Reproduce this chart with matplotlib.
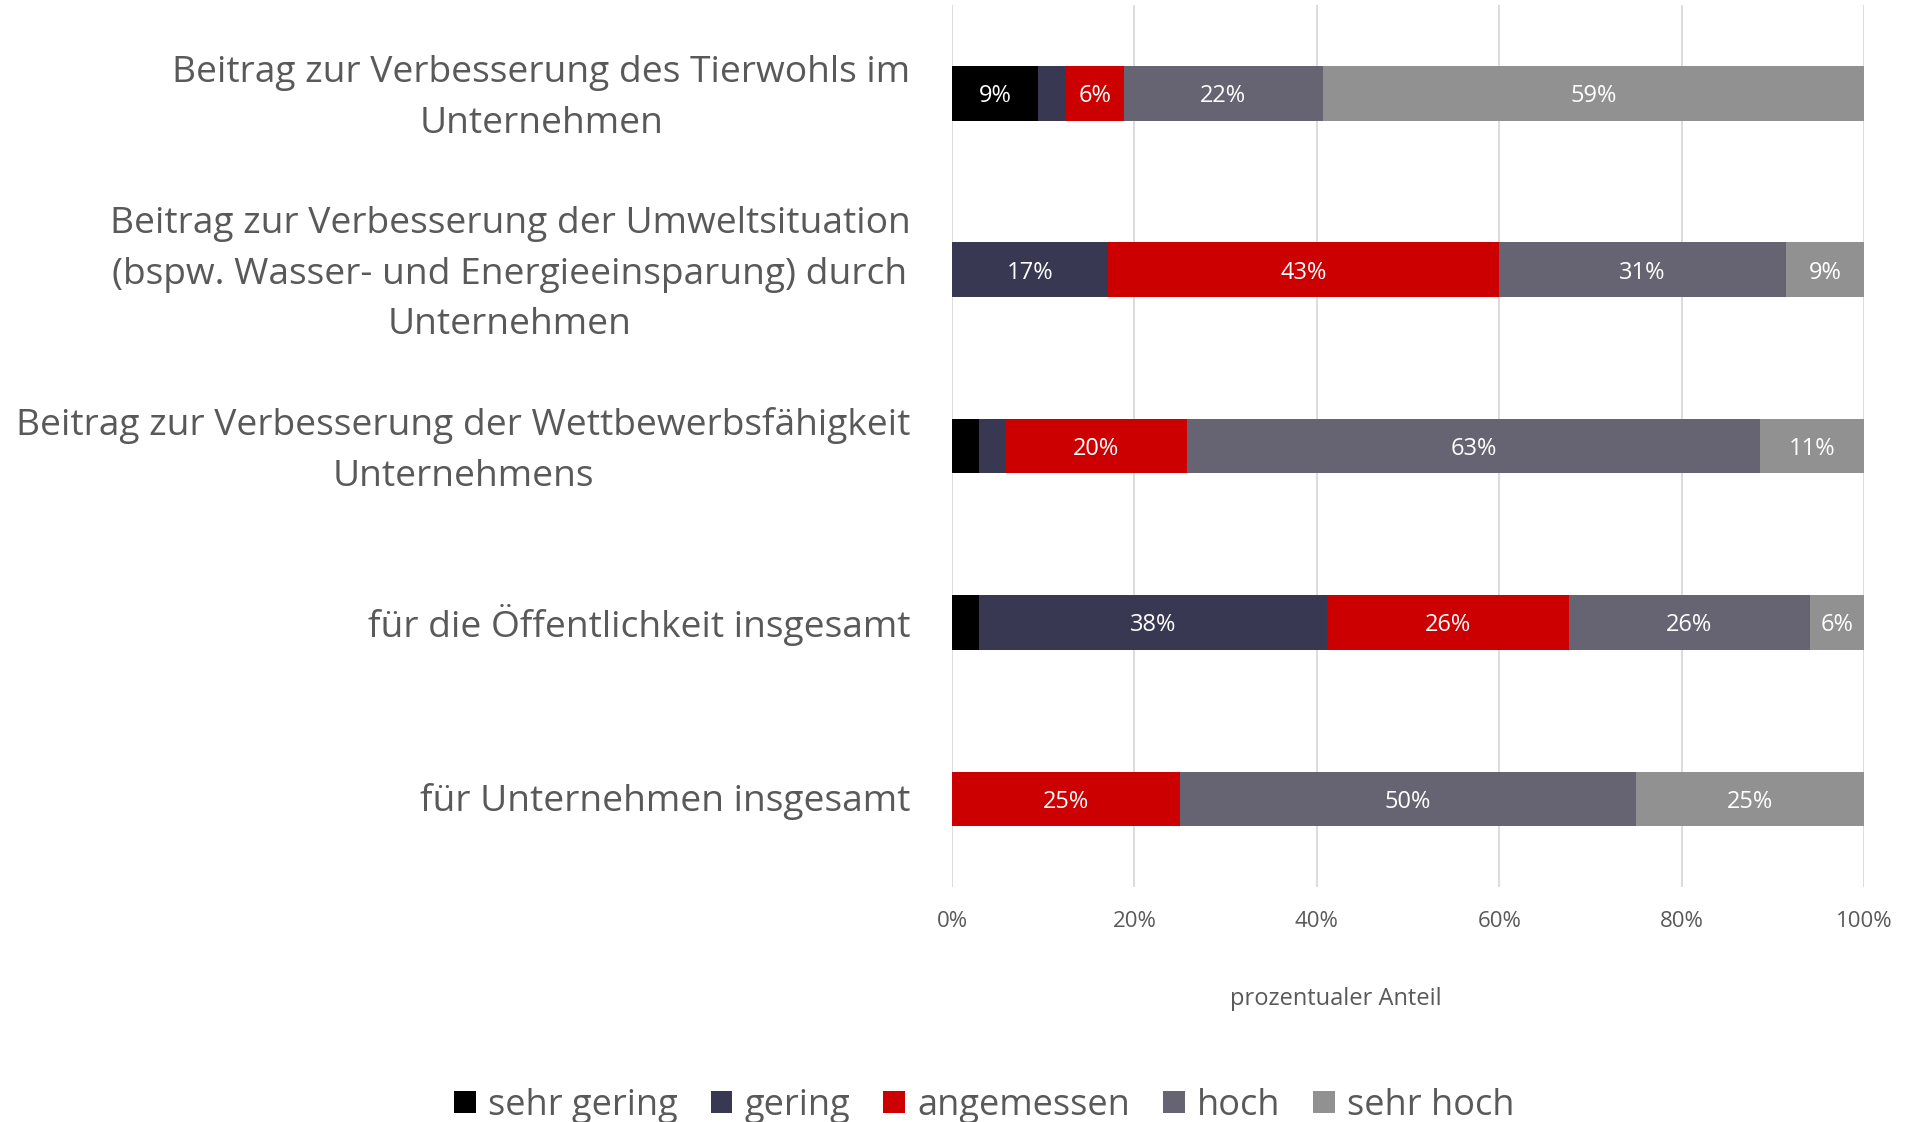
import matplotlib
matplotlib.use("Agg")
import matplotlib.pyplot as plt
import matplotlib.transforms as mtransforms
import numpy as np
from matplotlib.patches import Patch

FONT = ['Open Sans', 'DejaVu Sans']
plt.rcParams['font.family'] = FONT

categories = [
    "Beitrag zur Verbesserung des Tierwohls im\nUnternehmen",
    "Beitrag zur Verbesserung der Umweltsituation\n(bspw. Wasser- und Energieeinsparung) durch\nUnternehmen",
    "Beitrag zur Verbesserung der Wettbewerbsfähigkeit\nUnternehmens",
    "für die Öffentlichkeit insgesamt",
    "für Unternehmen insgesamt",
]
series_names = ["sehr gering", "gering", "angemessen", "hoch", "sehr hoch"]
sehr_gering = [9.4, 0.0, 2.9, 2.9, 0.0]
gering = [3.1, 17.1, 2.9, 38.2, 0.0]
angemessen = [6.3, 42.9, 20.0, 26.5, 25.0]
hoch = [21.9, 31.4, 62.8, 26.5, 50.0]
sehr_hoch = [59.4, 8.6, 11.4, 5.9, 25.0]
x_ticks = [0, 20, 40, 60, 80, 100]
x_tick_labels = ["0%", "20%", "40%", "60%", "80%", "100%"]
x_label = "prozentualer Anteil"

colors = ["#000000", "#393852", "#cc0000", "#666473", "#919191"]
text_gray = "#595959"

fig = plt.figure(figsize=(19.08, 11.22), dpi=100)
ax = fig.add_axes([0.499, 0.2094, 0.478, 0.7861])

y = np.arange(len(categories))
left = np.zeros(len(categories))
all_series = [sehr_gering, gering, angemessen, hoch, sehr_hoch]
for vals, col, name in zip(all_series, colors, series_names):
    vals = np.array(vals)
    ax.barh(y, vals, left=left, height=0.31, color=col, label=name,
            linewidth=0, zorder=3)
    for yi, (l, v) in enumerate(zip(left, vals)):
        if v >= 5:
            ax.text(l + v / 2, yi, f"{v:.0f}%", ha='center',
                    va='center_baseline', color='white', fontsize=17, zorder=4)
    left += vals

ax.set_xlim(0, 100)
ax.set_ylim(len(categories) - 0.5, -0.5)
ax.set_xticks(x_ticks)
ax.set_xticklabels(x_tick_labels, fontsize=16, color=text_gray)
ax.set_yticks(y)
ax.set_yticklabels(categories, fontsize=26.7, color=text_gray,
                   multialignment='center', linespacing=1.55)
ax.tick_params(axis='both', length=0)
ax.tick_params(axis='y', pad=30)
ax.tick_params(axis='x', pad=17)
ax.grid(axis='x', color='#d9d9d9', linewidth=1.3, zorder=0)
ax.set_axisbelow(True)
for s in ax.spines.values():
    s.set_visible(False)

# small upward nudge of category labels (visual centring like the original)
for lab in ax.get_yticklabels():
    multi = "\n" in lab.get_text()
    dy = (7 if multi else 2) / 100.0
    lab.set_transform(lab.get_transform() +
                      mtransforms.ScaledTranslation(0, dy, fig.dpi_scale_trans))

fig.text(0.700, 1 - 999 / 1122, x_label, ha='center', va='center',
         fontsize=17, color=text_gray)

handles = [Patch(facecolor=c, edgecolor='none', label=n)
           for c, n in zip(colors, series_names)]
fig.legend(handles=handles, loc='center', bbox_to_anchor=(0.516, 0.0145),
           ncol=5, frameon=False, fontsize=26, labelcolor=text_gray,
           handlelength=0.6, handleheight=0.6, handletextpad=0.35,
           columnspacing=0.9)

fig.savefig("out.png", dpi=100, facecolor='white')
